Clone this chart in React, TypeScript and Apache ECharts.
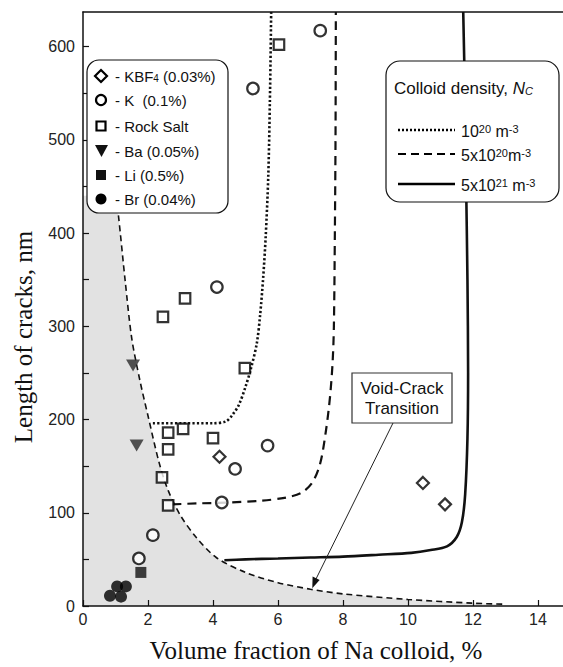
import React, { useEffect, useRef } from "react";
import * as echarts from "echarts";

// ---------- axis ticks ----------
const xTickValues = [0, 2, 4, 6, 8, 10, 12, 14];
const yTickValues = [0, 100, 200, 300, 400, 500, 600];
const yMinorTickValues = [50, 150, 250, 350, 450, 550];
const xMax = 14.77;
const yMax = 637;

// ---------- measured points [volume fraction %, crack length nm] ----------
const kbf4Points = [[4.2, 160], [10.46, 132], [11.14, 109]];
const potassiumPoints = [[1.72, 51], [2.15, 76], [4.27, 111], [4.68, 147], [5.68, 172], [4.12, 342], [5.23, 555], [7.3, 617]];
const rockSaltPoints = [[2.46, 310], [3.14, 330], [6.03, 602], [4.98, 255], [2.62, 186], [3.08, 190], [2.62, 168], [4.0, 180], [2.43, 138], [2.62, 108]];
const bariumPoints = [[1.54, 258], [1.65, 172]];
const lithiumPoints = [[1.78, 36]];
const brominePoints = [[0.83, 11], [1.05, 21], [1.32, 21], [1.17, 10]];

// ---------- model curves ----------
const voidCrackCurve = [[1.0, 440], [1.08, 422], [1.3, 348], [1.5, 287], [1.75, 242], [2.0, 204], [2.34, 154], [2.62, 124], [3.0, 97], [3.5, 73], [4.1, 52], [5, 36], [6, 25], [7, 18], [8, 13], [10, 7], [12, 3], [12.9, 2]];
const shadeStart = [[0, 440]];
const density1e20 = [[2.15, 196], [3, 196], [4, 196], [4.4, 198], [4.6, 205], [4.8, 216], [5.0, 235], [5.17, 255], [5.35, 282], [5.45, 312], [5.54, 350], [5.62, 395], [5.7, 460], [5.75, 540], [5.79, 637]];
const density5e20 = [[2.75, 109], [3.5, 110], [4.5, 111], [5.5, 113], [6.2, 116], [6.7, 121], [7.05, 132], [7.3, 153], [7.48, 189], [7.6, 224], [7.68, 261], [7.72, 300], [7.75, 400], [7.77, 500], [7.78, 637]];
const density5e21 = [[4.35, 49], [5, 50], [6, 51], [7, 52], [8, 53], [9.1, 55], [10.1, 57], [10.7, 60], [11.2, 64], [11.5, 74], [11.66, 90], [11.76, 120], [11.83, 180], [11.85, 250], [11.83, 350], [11.79, 450], [11.75, 550], [11.7, 637]];

// ---------- texts ----------
const speciesLabels = ["- KBF{sub|4} (0.03%)", "- K  (0.1%)", "- Rock Salt", "- Ba (0.05%)", "- Li (0.5%)", "- Br (0.04%)"];
const densityTitle = "Colloid density, {it|N}{itsub|C}";
const densityLabels = ["10{sup|20} m{sup|-3}", "5x10{sup|20}m{sup|-3}", "5x10{sup|21} m{sup|-3}"];
const xTitle = "Volume fraction of Na colloid, %";
const yTitle = "Length of cracks, nm";
const noteText = "Void-Crack\nTransition";

const sans = "'Liberation Sans', Arial, Helvetica, sans-serif";
const serif = "'Liberation Serif', 'Times New Roman', serif";

export default function App() {
  const ref = useRef<HTMLDivElement>(null);

  useEffect(() => {
    if (!ref.current) return;
    const chart = echarts.init(ref.current, null, { renderer: "svg" });

    const hollow = { color: "#fff", borderColor: "#000", borderWidth: 2.2 };
    const supRich = {
      sup: { fontSize: 11, fontFamily: sans, verticalAlign: "top", lineHeight: 10, fill: "#111" },
      sub: { fontSize: 10, fontFamily: sans, verticalAlign: "bottom", lineHeight: 10, fill: "#111" },
      it: { fontSize: 17, fontFamily: sans, fontStyle: "italic", fill: "#111" },
      itsub: { fontSize: 11, fontFamily: sans, fontStyle: "italic", verticalAlign: "bottom", lineHeight: 10, fill: "#111" },
    };

    const leftRows = [76, 100, 126, 151, 175, 199];
    const rightRows = [130, 154, 184];

    const graphics: any[] = [
      // axis titles
      {
        type: "text", z: 60, x: 316, y: 650,
        style: { text: xTitle, font: `25px ${serif}`, fill: "#111", align: "center", verticalAlign: "middle" },
      },
      {
        type: "text", z: 60, x: 23, y: 337, rotation: Math.PI / 2,
        style: { text: yTitle, font: `25px ${serif}`, fill: "#111", align: "center", verticalAlign: "middle" },
      },
      // left legend
      {
        type: "rect", z: 50, shape: { x: 87, y: 60, width: 141, height: 153, r: 12 },
        style: { fill: "#fff", stroke: "#111", lineWidth: 1.2 },
      },
      {
        type: "polygon", z: 51,
        shape: { points: [[101, leftRows[0] - 6], [107, leftRows[0]], [101, leftRows[0] + 6], [95, leftRows[0]]] },
        style: { fill: "#fff", stroke: "#000", lineWidth: 2.2 },
      },
      { type: "circle", z: 51, shape: { cx: 101, cy: leftRows[1], r: 5 }, style: { fill: "#fff", stroke: "#000", lineWidth: 2.2 } },
      { type: "rect", z: 51, shape: { x: 96.5, y: leftRows[2] - 4.5, width: 9, height: 9 }, style: { fill: "#fff", stroke: "#000", lineWidth: 2.2 } },
      {
        type: "polygon", z: 51,
        shape: { points: [[95, leftRows[3] - 6], [108, leftRows[3] - 6], [101.5, leftRows[3] + 6]] },
        style: { fill: "#111" },
      },
      { type: "rect", z: 51, shape: { x: 96, y: leftRows[4] - 5, width: 10, height: 10 }, style: { fill: "#111" } },
      { type: "circle", z: 51, shape: { cx: 101, cy: leftRows[5], r: 5.5 }, style: { fill: "#000" } },
      ...speciesLabels.map((t, i) => ({
        type: "text", z: 52, x: 115, y: leftRows[i],
        style: { text: t, font: `15px ${sans}`, fill: "#111", verticalAlign: "middle", rich: supRich },
      })),
      // right legend
      {
        type: "rect", z: 50, shape: { x: 386, y: 61, width: 173, height: 141, r: 14 },
        style: { fill: "#fff", stroke: "#111", lineWidth: 1.2 },
      },
      {
        type: "text", z: 52, x: 394, y: 88,
        style: { text: densityTitle, font: `17px ${sans}`, fill: "#111", verticalAlign: "middle", rich: supRich },
      },
      { type: "line", z: 51, shape: { x1: 398, y1: rightRows[0], x2: 455, y2: rightRows[0] }, style: { stroke: "#000", lineWidth: 2.5, lineDash: [2, 2] } },
      { type: "line", z: 51, shape: { x1: 398, y1: rightRows[1], x2: 455, y2: rightRows[1] }, style: { stroke: "#000", lineWidth: 2, lineDash: [8, 5] } },
      { type: "line", z: 51, shape: { x1: 398, y1: rightRows[2], x2: 455, y2: rightRows[2] }, style: { stroke: "#000", lineWidth: 2.5 } },
      ...densityLabels.map((t, i) => ({
        type: "text", z: 52, x: 461, y: rightRows[i] + 1,
        style: { text: t, font: `16px ${sans}`, fill: "#111", verticalAlign: "middle", rich: supRich },
      })),
      // void-crack annotation
      {
        type: "rect", z: 50, shape: { x: 352, y: 373, width: 100, height: 50 },
        style: { fill: "#fff", stroke: "#333", lineWidth: 1.2 },
      },
      {
        type: "text", z: 52, x: 402, y: 398,
        style: { text: noteText, font: `17px ${sans}`, fill: "#111", align: "center", verticalAlign: "middle", lineHeight: 20 },
      },
      { type: "line", z: 51, shape: { x1: 393, y1: 423, x2: 315, y2: 581 }, style: { stroke: "#222", lineWidth: 1 } },
      {
        type: "polygon", z: 51,
        shape: { points: [[312.3, 588.3], [312.6, 576.6], [319.6, 580.0]] },
        style: { fill: "#111" },
      },
    ];

    chart.setOption({
      animation: false,
      backgroundColor: "#fff",
      grid: { left: 83, top: 12, right: 0, bottom: 61, containLabel: false },
      xAxis: [
        {
          type: "value", min: 0, max: xMax, z: 5,
          axisLine: { show: true, onZero: false, lineStyle: { color: "#111", width: 1.5 } },
          axisTick: { show: true, inside: true, length: 6, customValues: xTickValues, lineStyle: { color: "#111", width: 1.2 } },
          axisLabel: { customValues: xTickValues, fontSize: 16, fontFamily: sans, color: "#222", margin: 5 },
          splitLine: { show: false },
        },
        {
          type: "value", min: 0, max: xMax, position: "top", z: 5,
          axisLine: { show: true, onZero: false, lineStyle: { color: "#111", width: 1.5 } },
          axisTick: { show: false }, axisLabel: { show: false }, splitLine: { show: false },
        },
      ],
      yAxis: {
        type: "value", min: 0, max: yMax, z: 5,
        axisLine: { show: true, onZero: false, lineStyle: { color: "#111", width: 1.5 } },
        axisTick: { show: true, inside: true, length: 6, customValues: [...yTickValues, ...yMinorTickValues], lineStyle: { color: "#111", width: 1.2 } },
        axisLabel: { customValues: yTickValues, fontSize: 16, fontFamily: sans, color: "#222", margin: 8 },
        splitLine: { show: false },
      },
      graphic: graphics,
      series: [
        {
          type: "line", name: "shade", z: 1, silent: true, symbol: "none", smooth: 0.3,
          data: [...shadeStart, ...voidCrackCurve],
          lineStyle: { width: 0, opacity: 0 },
          areaStyle: { color: "#e2e2e2", opacity: 1 },
        },
        {
          type: "line", name: "Void-crack transition", z: 2, symbol: "none", smooth: 0.3,
          data: voidCrackCurve,
          lineStyle: { color: "#111", width: 1.6, type: [6, 4] },
        },
        {
          type: "line", name: "1e20", z: 2, symbol: "none", smooth: 0.3,
          data: density1e20,
          lineStyle: { color: "#111", width: 2.6, type: [2.2, 2.2] },
        },
        {
          type: "line", name: "5e20", z: 2, symbol: "none", smooth: 0.3,
          data: density5e20,
          lineStyle: { color: "#111", width: 2.2, type: [9, 6] },
        },
        {
          type: "line", name: "5e21", z: 2, symbol: "none", smooth: 0.3,
          data: density5e21,
          lineStyle: { color: "#111", width: 2.6 },
        },
        { type: "scatter", name: "KBF4", z: 3, symbol: "diamond", symbolSize: 12, data: kbf4Points, itemStyle: hollow },
        { type: "scatter", name: "K", z: 3, symbol: "circle", symbolSize: 11.5, data: potassiumPoints, itemStyle: hollow },
        { type: "scatter", name: "Rock Salt", z: 3, symbol: "rect", symbolSize: 10.5, data: rockSaltPoints, itemStyle: hollow },
        { type: "scatter", name: "Ba", z: 3, symbol: "triangle", symbolRotate: 180, symbolSize: [14, 12], data: bariumPoints, itemStyle: { color: "#2a2a2a" } },
        { type: "scatter", name: "Li", z: 3, symbol: "rect", symbolSize: 11, data: lithiumPoints, itemStyle: { color: "#111" } },
        { type: "scatter", name: "Br", z: 3, symbol: "circle", symbolSize: 12, data: brominePoints, itemStyle: { color: "#000" } },
      ],
    });

    return () => chart.dispose();
  }, []);

  return (
    <div
      ref={ref}
      style={{ position: "fixed", left: 0, top: 0, width: 563, height: 667, background: "#fff" }}
    />
  );
}
